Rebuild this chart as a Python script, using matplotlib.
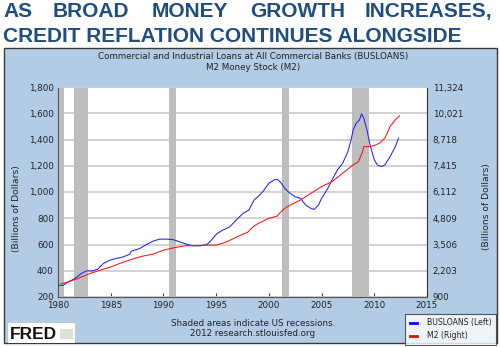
import matplotlib
matplotlib.use("Agg")
import matplotlib.pyplot as plt
import matplotlib.patches as mpatches
from matplotlib.lines import Line2D

# ── data ──────────────────────────────────────────────────────────────────────
loans_years = [1980.0, 1980.5, 1980.95, 1981.6, 1982.2, 1982.7, 1983.3, 1983.8,
               1984.3, 1984.9, 1985.5, 1986.2, 1986.8, 1986.96, 1987.75, 1988.4,
               1989.0, 1989.65, 1990.3, 1990.9, 1991.55, 1992.2, 1992.8, 1993.45,
               1994.1, 1994.55, 1995.03, 1995.5, 1996.3, 1996.9, 1997.55, 1998.1,
               1998.6, 1999.1, 1999.5, 2000.0, 2000.5, 2000.8, 2001.2, 2001.5,
               2002.0, 2002.5, 2003.0, 2003.5, 2004.0, 2004.3, 2004.7, 2005.0,
               2005.5, 2006.0, 2006.5, 2007.0, 2007.5, 2007.8, 2008.0, 2008.3,
               2008.6, 2008.8, 2009.0, 2009.3, 2009.6, 2010.0, 2010.3, 2010.7,
               2011.0, 2011.5, 2012.0, 2012.3]
loans_values = [289, 289, 315, 340, 378, 399, 399, 414,
                455, 480, 493, 506, 526, 549, 569, 600,
                625, 641, 641, 638, 620, 602, 590, 590,
                598, 633, 679, 704, 735, 786, 837, 862,
                939, 975, 1010, 1066, 1092, 1097, 1066, 1028,
                990, 964, 952, 900, 875, 867, 900, 952,
                1015, 1092, 1168, 1219, 1309, 1397, 1474, 1525,
                1550, 1596, 1563, 1474, 1359, 1245, 1206, 1194,
                1206, 1270, 1346, 1410]

m2_years = [1980.3, 1981.0, 1982.0, 1983.0, 1984.0, 1985.0, 1986.0, 1987.0,
            1988.0, 1989.0, 1990.0, 1991.0, 1992.0, 1993.0, 1994.0, 1995.0,
            1996.0, 1997.0, 1998.0, 1998.5, 1999.0, 2000.0, 2000.8, 2001.0,
            2001.5, 2002.0, 2003.0, 2004.0, 2005.0, 2006.0, 2007.0, 2008.0,
            2008.5, 2008.9, 2009.0, 2009.5, 2010.0, 2010.5, 2011.0, 2011.5,
            2012.0, 2012.4]
m2_values = [1565, 1649, 1845, 2060, 2229, 2392, 2594, 2776,
             2926, 3024, 3226, 3343, 3441, 3454, 3473, 3473,
             3636, 3890, 4120, 4385, 4555, 4803, 4920, 5050,
             5298, 5460, 5714, 6046, 6379, 6626, 7043, 7454,
             7623, 8125, 8366, 8366, 8418, 8535, 8783, 9363,
             9695, 9897]

recessions = [(1980.0, 1980.55), (1981.5, 1982.88), (1990.55, 1991.2),
              (2001.2, 2001.88), (2007.92, 2009.5)]

left_ticks = [200, 400, 600, 800, 1000, 1200, 1400, 1600, 1800]
right_ticks = [900, 2203, 3506, 4809, 6112, 7415, 8718, 10021, 11324]
x_ticks = [1980, 1985, 1990, 1995, 2000, 2005, 2010, 2015]

# ── styles ────────────────────────────────────────────────────────────────────
C_TITLE = "#1F4E83"
C_PANEL = "#B2CCE5"
C_LOANS = "#2020FF"
C_M2 = "#FF1010"
C_REC = "#BEBEBE"
C_GRID = "#CFCFCF"
C_TEXT = "#222222"
FONT = "DejaVu Sans"
FS = 6.3

W, H = 500, 347
fig = plt.figure(figsize=(W / 100, H / 100), dpi=100)
fig.patch.set_facecolor("white")


def fx(px):
    return px / W


def fy(py):
    return 1 - py / H


# ── headline ──────────────────────────────────────────────────────────────────
title_kw = dict(fontfamily="Liberation Sans", fontweight="bold", fontsize=15,
                color=C_TITLE, va="baseline", ha="left")
for word, px in [("AS", 3), ("BROAD", 53), ("MONEY", 152), ("GROWTH", 250),
                 ("INCREASES,", 365)]:
    fig.text(fx(px), fy(17), word, **title_kw)
fig.text(fx(3), fy(42), "CREDIT REFLATION CONTINUES ALONGSIDE", **title_kw)

# ── panel background ──────────────────────────────────────────────────────────
fig.patches.append(mpatches.Rectangle(
    (fx(4), fy(343)), fx(493), 295 / H, transform=fig.transFigure,
    facecolor=C_PANEL, edgecolor="#3A3A3A", linewidth=1.0, zorder=-10))

fig.text(fx(253), fy(57), "Commercial and Industrial Loans at All Commercial Banks (BUSLOANS)",
         ha="center", va="center", fontsize=FS, fontfamily=FONT, color=C_TEXT)
fig.text(fx(253), fy(68), "M2 Money Stock (M2)",
         ha="center", va="center", fontsize=FS, fontfamily=FONT, color=C_TEXT)

# ── main axes ─────────────────────────────────────────────────────────────────
ax = fig.add_axes([fx(58), fy(297), 369 / W, 210 / H])
ax.set_facecolor("white")
for a, b in recessions:
    ax.axvspan(a, b, color=C_REC, linewidth=0, zorder=1)
ax.set_xlim(1980, 2015)
ax.set_ylim(200, 1800)
ax.set_yticks(left_ticks)
ax.set_yticklabels([f"{v:,}" for v in left_ticks])
ax.set_xticks(x_ticks)
ax.yaxis.grid(True, color=C_GRID, linewidth=1.3, zorder=0)
ax.set_axisbelow(True)
ax.tick_params(axis="y", length=0, labelsize=FS, labelcolor=C_TEXT, pad=3)
ax.tick_params(axis="x", direction="in", length=3, width=0.8, color="#444444",
               labelsize=FS, labelcolor=C_TEXT, pad=3)
for lab in ax.get_xticklabels() + ax.get_yticklabels():
    lab.set_fontfamily(FONT)
for s in ax.spines.values():
    s.set_color("#555555")
    s.set_linewidth(0.8)
ax.spines["top"].set_color("#CCCCCC")
ax.spines["right"].set_color("#333333")
ax.plot(loans_years, loans_values, color=C_LOANS, linewidth=0.75, zorder=3)

ax2 = ax.twinx()
ax2.set_ylim(900, 11324)
ax2.set_yticks(right_ticks)
ax2.set_yticklabels([f"{v:,}" for v in right_ticks])
ax2.tick_params(axis="y", length=0, labelsize=FS, labelcolor=C_TEXT, pad=4)
for lab in ax2.get_yticklabels():
    lab.set_fontfamily(FONT)
for s in ax2.spines.values():
    s.set_visible(False)
ax2.plot(m2_years, m2_values, color=C_M2, linewidth=0.75, zorder=3)

fig.text(fx(17), fy(209), "(Billions of Dollars)", rotation=90, ha="center", va="center",
         fontsize=6.6, fontfamily=FONT, color=C_TEXT)
fig.text(fx(487), fy(207), "(Billions of Dollars)", rotation=90, ha="center", va="center",
         fontsize=6.6, fontfamily=FONT, color=C_TEXT)

# ── footer ────────────────────────────────────────────────────────────────────
fig.text(fx(253), fy(323), "Shaded areas indicate US recessions.",
         ha="center", va="center", fontsize=FS, fontfamily=FONT, color=C_TEXT)
fig.text(fx(253), fy(334), "2012 research.stlouisfed.org",
         ha="center", va="center", fontsize=FS, fontfamily=FONT, color=C_TEXT)

fig.patches.append(mpatches.Rectangle(
    (fx(8), fy(343)), fx(67), 20 / H, transform=fig.transFigure,
    facecolor="white", edgecolor="none", zorder=1))
fig.text(fx(10), fy(339), "FRED", fontfamily="Liberation Sans", fontweight="bold",
         fontsize=12.5, color="#111111", ha="left", va="baseline")
fig.patches.append(mpatches.Rectangle(
    (fx(60), fy(339)), fx(13), 10 / H, transform=fig.transFigure,
    facecolor="#D8E4D0", edgecolor="none", zorder=1))

handles = [Line2D([], [], color="#0000FF", linewidth=2.0),
           Line2D([], [], color="#FF0000", linewidth=2.0)]
leg = fig.legend(handles, ["BUSLOANS (Left)", "M2 (Right)"], loc="lower right",
                 bbox_to_anchor=(fx(496), fy(345)), frameon=True, fancybox=False,
                 prop={"family": FONT, "size": 5.6}, handlelength=1.0,
                 handletextpad=1.2, borderpad=0.6, labelspacing=0.5, borderaxespad=0)
leg.get_frame().set_edgecolor("#333333")
leg.get_frame().set_linewidth(0.8)
for t in leg.get_texts():
    t.set_color(C_TEXT)

fig.savefig("out.png", dpi=100)
